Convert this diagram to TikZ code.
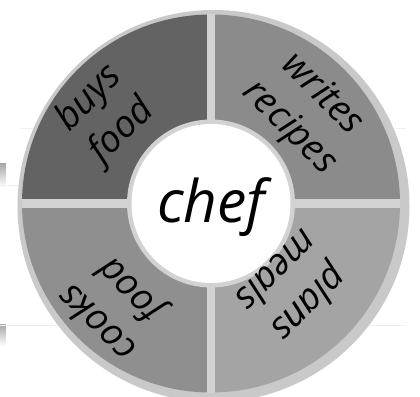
\documentclass[tikz,border=0pt]{standalone}
\usepackage{fontspec}
\setmainfont{Open Sans}
\definecolor{ringgray}{HTML}{C9C9C9}
\definecolor{gapgray}{HTML}{D2D2D2}
\definecolor{secTL}{HTML}{636363}
\definecolor{secTR}{HTML}{8B8B8B}
\definecolor{secBR}{HTML}{A4A4A4}
\definecolor{secBL}{HTML}{8F8F8F}
\tikzset{
  role/.style={align=center, font=\fontsize{28}{35}\selectfont\itshape},
  hub/.style={font=\fontsize{44}{50}\selectfont\itshape}
}
\begin{document}
\begin{tikzpicture}[x=0.75pt,y=0.75pt]
\useasboundingbox (-211,-192.5) rectangle (209,203.5);

% stubs at the left edge
\fill[top color=gray!70, bottom color=white] (-211,40.5) rectangle (-205,16.5);
\fill[top color=gray!70, bottom color=white] (-211,-120.5) rectangle (-205,-142.5);
\draw[gray!12, line width=0.4pt] (-211,18.5) -- (195,18.5);
\draw[gray!12, line width=0.4pt] (-190,75.5) -- (195,75.5);
\draw[gray!12, line width=0.4pt] (-211,-121.5) -- (195,-121.5);

% outer ring
\fill[ringgray] (2.5,-2.5) circle (196);

% four sectors
\foreach \a/\c in {90/secTL, 0/secTR, -90/secBR, 180/secBL}
{
    \fill[\c] (0,0) -- (\a:189) arc[start angle=\a, end angle=\a+90, radius=189] -- cycle;
}

% gaps
\fill[gapgray] (-4.25,-189) rectangle (4.25,189);
\fill[gapgray] (-189,-4.25) rectangle (189,4.25);
\fill[gapgray] (0,0) circle (84);
\fill[white] (0,0) circle (79.5);

% chef
\node[hub] (chef) at (0,-4) {chef};

% roles
\node[role, rotate=45] (buys) at (-105,88.5) {buys\\food};
\node[role, rotate=-45] (writes) at (94.5,92) {writes\\recipes};
\node[role, rotate=-135] (plans) at (83.5,-85) {plans\\meals};
\node[role, rotate=135] (cooks) at (-96,-101.5) {cooks\\food};

\end{tikzpicture}
\end{document}
